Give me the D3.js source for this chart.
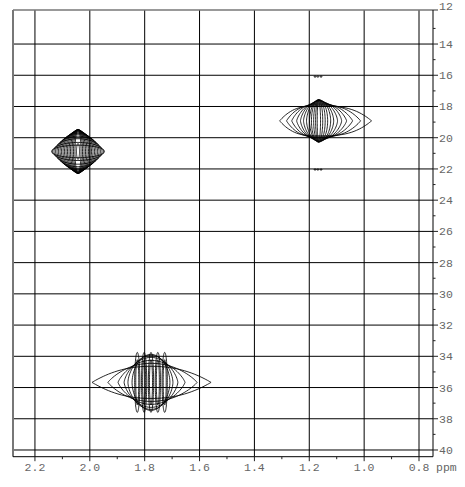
<!DOCTYPE html>
<html lang="en">
<head>
<meta charset="UTF-8">
<title>2D contour plot</title>
<script src="https://cdn.jsdelivr.net/npm/d3@7/dist/d3.min.js"></script>
<style>
    body { margin: 0; background: #fff; }
    .grid line { stroke: #000; stroke-width: 1; }
    .tick-mark { stroke: #222; stroke-width: 1; }
    .axis text { font-family: "Liberation Mono", "DejaVu Sans Mono", monospace; font-size: 11.5px; fill: #666; }
    .contour { fill: none; stroke: #000; stroke-width: 0.85; }
</style>
</head>
<body>
<svg id="vis" width="465" height="487"></svg>
<script>
    // axis ticks (ppm)
    const xTicks = [2.2, 2.0, 1.8, 1.6, 1.4, 1.2, 1.0, 0.8];
    const xMinorTicks = [2.1, 1.9, 1.7, 1.5, 1.3, 1.1, 0.9];
    const yTicks = [12, 14, 16, 18, 20, 22, 24, 26, 28, 30, 32, 34, 36, 38, 40];
    const yMinorTicks = [13, 15, 17, 19, 21, 23, 25, 27, 29, 31, 33, 35, 37, 39];

    // cross peaks : centre F2 (x) / F1 (y)
    const peakX = [2.043, 1.166, 1.777];
    const peakY = [20.88, 18.92, 35.67];

    // contour families : half width to higher ppm, to lower ppm, half height, shape (m, q)
    const peakAHi = [0.0055, 0.011, 0.0164, 0.0219, 0.0273, 0.0328, 0.0383, 0.0437, 0.0492, 0.0547, 0.0602, 0.0656, 0.0711, 0.0766, 0.082, 0.0875, 0.093, 0.0966];
    const peakALo = [0.0055, 0.011, 0.0164, 0.0219, 0.0273, 0.0328, 0.0383, 0.0437, 0.0492, 0.0547, 0.0602, 0.0656, 0.0711, 0.0766, 0.082, 0.0875, 0.093, 0.0966];
    const peakAH  = [0.51, 1.41, 1.41, 1.41, 1.405, 1.395, 1.375, 1.35, 1.32, 1.285, 1.245, 1.2, 1.15, 1.075, 0.975, 0.815, 0.58, 0.40];
    const peakAM  = [2, 2, 2, 2, 2, 2, 2, 2, 2, 2, 2, 2, 2, 2, 2, 2, 2, 2];
    const peakAQ  = [0.5, 0.5, 0.5, 0.5, 0.5, 0.5, 0.5, 0.5, 0.5, 0.5, 0.5, 0.5, 0.5, 0.5, 0.5, 0.5, 0.5, 0.5];

    const peakBHi = [0.142, 0.117, 0.098, 0.080, 0.066, 0.055, 0.044, 0.033, 0.026, 0.018, 0.011, 0.005];
    const peakBLo = [0.193, 0.153, 0.124, 0.102, 0.084, 0.069, 0.055, 0.044, 0.033, 0.024, 0.015, 0.007];
    const peakBH  = [0.96, 1.03, 1.09, 1.15, 1.22, 1.28, 1.31, 1.35, 1.35, 1.35, 1.35, 1.28];
    const peakBM  = [3, 2.8, 2.6, 2.4, 2.2, 2, 2, 2, 2, 2, 2, 2];
    const peakBQ  = [1.0, 0.95, 0.9, 0.8, 0.7, 0.65, 0.6, 0.55, 0.5, 0.5, 0.5, 0.5];

    const peakCHi = [0.215, 0.157, 0.120, 0.098, 0.084, 0.069];
    const peakCLo = [0.219, 0.168, 0.124, 0.098, 0.080, 0.069];
    const peakCH  = [1.03, 1.22, 1.41, 1.60, 1.73, 1.79];
    const peakCM  = [2.2, 2.1, 2, 2, 2, 2];
    const peakCQ  = [1.0, 0.9, 0.8, 0.7, 0.6, 0.55];

    // multiplet lines of peak C
    const multC = [-0.05, -0.025, 0, 0.025, 0.05];
    const multCW = [0.0095, 0.0055];
    const multCH = [1.92, 1.45];

    // small noise contours
    const noiseX = [1.179, 1.169, 1.157, 1.179, 1.169, 1.157];
    const noiseY = [16.09, 16.09, 16.09, 22.04, 22.04, 22.04];

    let svg = d3.select("#vis");
    let margin = { top: 10, right: 32, bottom: 30.3, left: 13 };
    let width = +svg.attr("width");
    let height = +svg.attr("height");

    let x = d3.scaleLinear().domain([2.28, 0.749]).range([margin.left, width - margin.right]);
    let y = d3.scaleLinear().domain([11.82, 40.43]).range([margin.top, height - margin.bottom]);

    let x0 = x.range()[0], x1 = x.range()[1];
    let y0 = y.range()[0], y1 = y.range()[1];

    /* grille */
    let grid = svg.append("g").attr("class", "grid");
    grid.selectAll(".vx").data(xTicks).join("line")
        .attr("x1", d => x(d)).attr("x2", d => x(d))
        .attr("y1", y0).attr("y2", y1);
    grid.selectAll(".hy").data(yTicks.filter(d => y(d) > y0 + 4)).join("line")
        .attr("x1", x0).attr("x2", x1)
        .attr("y1", d => y(d)).attr("y2", d => y(d));

    /* cadre */
    svg.append("line").attr("x1", x0).attr("x2", x0).attr("y1", y0).attr("y2", y1)
        .attr("stroke", "#777").attr("stroke-width", 2);
    svg.append("line").attr("x1", x0).attr("x2", x1 + 5).attr("y1", y0).attr("y2", y0)
        .attr("stroke", "#777").attr("stroke-width", 1.5);
    svg.append("line").attr("x1", x1).attr("x2", x1).attr("y1", y0).attr("y2", y1)
        .attr("stroke", "#000");
    svg.append("line").attr("x1", x0).attr("x2", x1).attr("y1", y1).attr("y2", y1)
        .attr("stroke", "#000");

    /* axes */
    let axis = svg.append("g").attr("class", "axis");
    axis.selectAll(".xt").data(xTicks).join("line").attr("class", "tick-mark")
        .attr("x1", d => x(d)).attr("x2", d => x(d)).attr("y1", y1).attr("y2", y1 + 4.5);
    axis.selectAll(".xm").data(xMinorTicks).join("line").attr("class", "tick-mark")
        .attr("x1", d => x(d)).attr("x2", d => x(d)).attr("y1", y1).attr("y2", y1 + 2.5);
    axis.selectAll(".xl").data(xTicks).join("text")
        .attr("x", d => x(d)).attr("y", y1 + 14.5)
        .attr("text-anchor", "middle")
        .text(d => d.toFixed(1));
    axis.append("text").attr("x", x(0.8) + 17).attr("y", y1 + 14.5).text("ppm");

    axis.selectAll(".yt").data(yTicks.slice(1)).join("line").attr("class", "tick-mark")
        .attr("x1", x1).attr("x2", x1 + 5).attr("y1", d => y(d)).attr("y2", d => y(d));
    axis.selectAll(".ym").data(yMinorTicks).join("line").attr("class", "tick-mark")
        .attr("x1", x1).attr("x2", x1 + 2.5).attr("y1", d => y(d)).attr("y2", d => y(d));
    // le premier libellé est collé au bord haut
    axis.selectAll(".yl").data(yTicks).join("text")
        .attr("x", x1 + 6).attr("y", d => d === yTicks[0] ? 9.5 : y(d) + 4)
        .text(d => d);

    /* contours */
    let line = d3.line().x(d => x(d[0])).y(d => y(d[1])).curve(d3.curveLinearClosed);

    function shape(cx, cy, hi, lo, h, m, q) {
        let pts = [];
        for (let i = 0; i < 90; i++) {
            let t = i / 90 * 2 * Math.PI;
            let u = -Math.cos(t);
            let s = Math.sin(t);
            let px = u < 0 ? cx + hi * (-u) : cx - lo * u;
            let py = cy + Math.sign(s) * h * Math.pow(Math.max(0, 1 - Math.pow(Math.abs(u), m)), q);
            pts.push([px, py]);
        }
        return pts;
    }

    let shapes = [];
    [[peakAHi, peakALo, peakAH, peakAM, peakAQ],
     [peakBHi, peakBLo, peakBH, peakBM, peakBQ],
     [peakCHi, peakCLo, peakCH, peakCM, peakCQ]]
        .forEach(function(fam, p) {
            fam[0].forEach(function(hi, i) {
                shapes.push(shape(peakX[p], peakY[p], hi, fam[1][i], fam[2][i], fam[3][i], fam[4][i]));
            });
        });
    multC.forEach(function(off) {
        multCW.forEach(function(w, i) {
            shapes.push(shape(peakX[2] + off, peakY[2], w, w, multCH[i], 2, 0.5));
        });
    });
    noiseX.forEach(function(nx, i) {
        shapes.push(shape(nx, noiseY[i], 0.004, 0.004, 0.03, 2, 0.5));
    });

    svg.append("g").selectAll("path").data(shapes).join("path")
        .attr("class", "contour")
        .attr("d", line);
</script>
</body>
</html>
